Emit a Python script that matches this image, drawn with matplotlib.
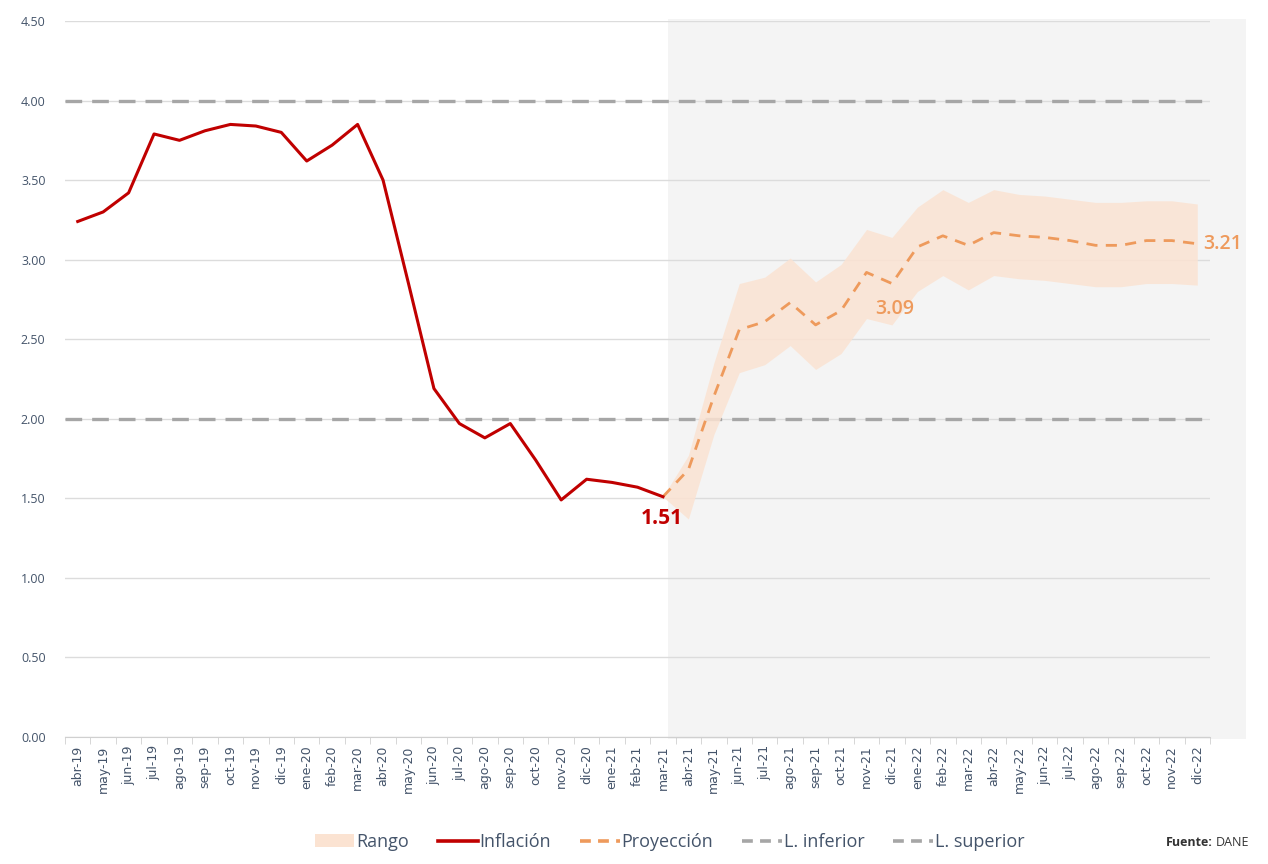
import matplotlib
matplotlib.use("Agg")
import matplotlib.pyplot as plt
from matplotlib.patches import Rectangle, Patch
from matplotlib.lines import Line2D
import numpy as np

plt.rcParams['font.family'] = ['Open Sans', 'DejaVu Sans']

months = ["abr-19", "may-19", "jun-19", "jul-19", "ago-19", "sep-19", "oct-19", "nov-19", "dic-19",
          "ene-20", "feb-20", "mar-20", "abr-20", "may-20", "jun-20", "jul-20", "ago-20", "sep-20",
          "oct-20", "nov-20", "dic-20", "ene-21", "feb-21", "mar-21", "abr-21", "may-21", "jun-21",
          "jul-21", "ago-21", "sep-21", "oct-21", "nov-21", "dic-21", "ene-22", "feb-22", "mar-22",
          "abr-22", "may-22", "jun-22", "jul-22", "ago-22", "sep-22", "oct-22", "nov-22", "dic-22"]

inflacion = [3.24, 3.30, 3.42, 3.79, 3.75, 3.81, 3.85, 3.84, 3.80,
             3.62, 3.72, 3.85, 3.50, 2.85, 2.19, 1.97, 1.88, 1.97,
             1.74, 1.49, 1.62, 1.60, 1.57, 1.51]

proyeccion = [1.51, 1.68, 2.14, 2.56, 2.61, 2.73, 2.59, 2.68, 2.92, 2.85,
              3.08, 3.15, 3.09, 3.17, 3.15, 3.14, 3.12, 3.09, 3.09, 3.12, 3.12, 3.10]

rango_sup = [1.51, 1.77, 2.35, 2.85, 2.89, 3.01, 2.86, 2.97, 3.19, 3.14,
             3.33, 3.44, 3.36, 3.44, 3.41, 3.40, 3.38, 3.36, 3.36, 3.37, 3.37, 3.35]
rango_inf = [1.51, 1.37, 1.90, 2.29, 2.34, 2.46, 2.31, 2.41, 2.63, 2.59,
             2.80, 2.90, 2.81, 2.90, 2.88, 2.87, 2.85, 2.83, 2.83, 2.85, 2.85, 2.84]

limite_inferior = 2.0
limite_superior = 4.0

fig = plt.figure(figsize=(12.68, 8.64), dpi=100)
ax = fig.add_axes([65/1268, 1-737/864, (1210-65)/1268, (737-21)/864])
ax.patch.set_alpha(0)

x_all = np.arange(len(months))
x_inf = x_all[:len(inflacion)]
x_proj = x_all[len(inflacion)-1:]

# forecast shaded background
ax.add_patch(Rectangle((23.2, -0.01), 22.7, 4.52, transform=ax.transData,
                       facecolor="#f4f4f4", edgecolor="none", zorder=0, clip_on=False))

ax.set_xlim(-0.5, len(months) - 0.5)
ax.set_ylim(0, 4.5)
yt = np.arange(0, 4.51, 0.5)
ax.set_yticks(yt)
ax.set_yticklabels([f"{v:.2f}" for v in yt], color="#44546a", fontsize=9)
ax.yaxis.grid(True, color="#dcdcdc", lw=1.0, zorder=1)
ax.set_axisbelow(True)
for s in ["top", "right", "left"]:
    ax.spines[s].set_visible(False)
ax.spines["bottom"].set_color("#d0d0d0")
ax.tick_params(axis="y", length=0, pad=14)

ax.set_xticks(x_all)
ax.set_xticklabels(months, rotation=90, fontsize=9, color="#44546a",
                   family=['DejaVu Sans'])
ax.tick_params(axis="x", length=0, pad=6)
ax.set_xticks(np.arange(-0.5, len(months), 1.0), minor=True)
ax.tick_params(axis="x", which="minor", length=5, color="#d0d0d0")

gray = "#a6a6a6"
ax.axhline(limite_inferior, color=gray, lw=2.4, dashes=(5, 3), zorder=2)
ax.axhline(limite_superior, color=gray, lw=2.4, dashes=(5, 3), zorder=2)

band_color = "#fbe3d2"
ax.fill_between(x_proj, rango_inf, rango_sup, color=band_color, alpha=0.85,
                lw=0, zorder=3)
orange = "#ee9a5c"
ax.plot(x_proj, proyeccion, color=orange, lw=2.0, dashes=(4, 3), zorder=4)
red = "#c00000"
ax.plot(x_inf, inflacion, color=red, lw=2.2, zorder=5)

ax.text(x_inf[-1] - 0.05, inflacion[-1] - 0.07, "1.51", color=red, fontsize=15,
        fontweight="bold", ha="center", va="top")
ax.text(32.1, 2.85 - 0.1, "3.09", color=orange, fontsize=14,
        fontweight="semibold", ha="center", va="top")
ax.text(44.25, 3.10, "3.21", color=orange, fontsize=14,
        fontweight="semibold", ha="left", va="center", clip_on=False)

handles = [Patch(facecolor=band_color, edgecolor="none", label="Rango"),
           Line2D([], [], color=red, lw=2.6, label="Inflación"),
           Line2D([], [], color=orange, lw=2.6, dashes=(3, 2), label="Proyección"),
           Line2D([], [], color=gray, lw=2.6, dashes=(3, 2), label="L. inferior"),
           Line2D([], [], color=gray, lw=2.6, dashes=(3, 2), label="L. superior")]
fig.legend(handles=handles, loc="center", bbox_to_anchor=(0.528, 1-842/864), ncol=5,
           frameon=False, fontsize=13, handlelength=2.2, handletextpad=0.1,
           columnspacing=1.6, labelcolor="#44546a")

fig.text(1213/1268, 1-842/864, "Fuente:", ha="right", va="center", fontsize=9,
         fontweight="bold", color="#333333")
fig.text(1216/1268, 1-842/864, "DANE", ha="left", va="center", fontsize=9,
         color="#333333")

fig.savefig("out.png", dpi=100)
